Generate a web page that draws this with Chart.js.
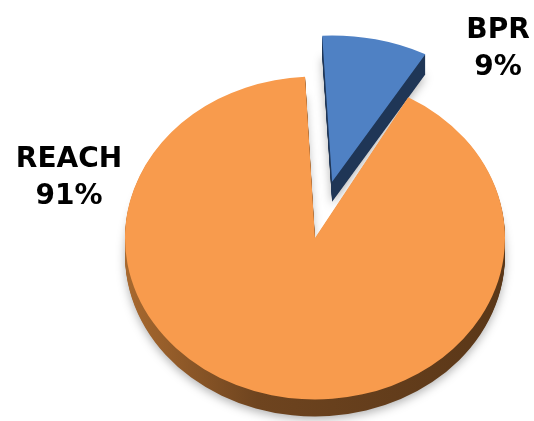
<!DOCTYPE html>
<html>
<head>
<meta charset="utf-8">
<script src="https://cdn.jsdelivr.net/npm/chart.js@4.4.0/dist/chart.umd.min.js"></script>
<style>
  html, body { margin: 0; padding: 0; background: #fff; }
  #wrap { width: 534px; height: 421px; }
</style>
</head>
<body>
<div id="wrap"><canvas id="pieChart" width="534" height="421"></canvas></div>
<script>
"use strict";

var categories = ['BPR', 'REACH'];
var shares = [9, 91];
var sliceColors = ['#4f81c4', '#f89b4d'];
var sideColors = ['#1f3656', '#5e3a1b'];
var explode = [75, 0];   // px the slice is pulled out along its middle

// fake perspective: the far slice gets squashed a bit more
var sliceTilt = [0.77, 0.85];
var sliceDepth = [20, 17];   // rim thickness, px

// where the two labels sit (centre x, first baseline)
var labelSpots = [[498, 38], [69, 167]];

function rimFill(ctx, cx, r, i) {
  var grad = ctx.createLinearGradient(cx - r, 0, cx + r, 0);
  if (i === 1) {
    grad.addColorStop(0, '#a8692f');
    grad.addColorStop(0.35, '#6e441f');
    grad.addColorStop(1, '#5a3718');
  } else {
    grad.addColorStop(0, sideColors[i]);
    grad.addColorStop(1, sideColors[i]);
  }
  return grad;
}

var tiltPlugin = {
  id: 'tilt',
  beforeDatasetDraw: function (chart, args) {
    var ctx = chart.ctx;
    args.meta.data.forEach(function (arc, i) {
      var p = arc.getProps(['x', 'y', 'startAngle', 'endAngle', 'outerRadius']);
      var k = sliceTilt[i];
      var depth = sliceDepth[i];
      var mid = (p.startAngle + p.endAngle) / 2;
      ctx.save();
      ctx.translate(0, p.y * (1 - k));
      ctx.scale(1, k);
      ctx.translate(Math.cos(mid) * explode[i], Math.sin(mid) * explode[i]);

      // side of the slice: stack copies downwards
      var fill = rimFill(ctx, p.x, p.outerRadius, i);
      for (var d = depth; d > 0; d--) {
        ctx.save();
        if (d === depth) {
          ctx.shadowColor = 'rgba(0,0,0,0.3)';
          ctx.shadowBlur = 10;
          ctx.shadowOffsetY = 3;
        }
        ctx.beginPath();
        ctx.moveTo(p.x, p.y + d / k);
        ctx.arc(p.x, p.y + d / k, p.outerRadius, p.startAngle, p.endAngle);
        ctx.closePath();
        ctx.fillStyle = fill;
        ctx.fill();
        ctx.restore();
      }

      // top face, drawn by the arc element itself
      arc.draw(ctx);
      ctx.restore();
    });
    return false;
  }
};

var labelPlugin = {
  id: 'sliceLabels',
  afterDraw: function (chart) {
    var ctx = chart.ctx;
    ctx.save();
    ctx.fillStyle = '#000';
    ctx.font = 'bold 28px "DejaVu Sans", Verdana, sans-serif';
    ctx.textAlign = 'center';
    ctx.textBaseline = 'alphabetic';
    categories.forEach(function (name, i) {
      var s = labelSpots[i];
      ctx.fillText(name, s[0], s[1]);
      ctx.fillText(shares[i] + '%', s[0], s[1] + 37);
    });
    ctx.restore();
  }
};

var pieCtx = document.getElementById('pieChart').getContext('2d');
var pieChart = new Chart(pieCtx, {
  type: 'pie',
  data: {
    labels: categories,
    datasets: [{
      data: shares,
      backgroundColor: sliceColors,
      borderWidth: 0,
      hoverOffset: 0,
      clip: false
    }]
  },
  options: {
    responsive: false,
    animation: { duration: 0 },
    events: [],
    rotation: -3,
    radius: 190,
    layout: { padding: { left: 96, right: 0, top: 55, bottom: 0 } },
    plugins: {
      legend: { display: false },
      tooltip: { enabled: false }
    }
  },
  plugins: [tiltPlugin, labelPlugin]
});
</script>
</body>
</html>
